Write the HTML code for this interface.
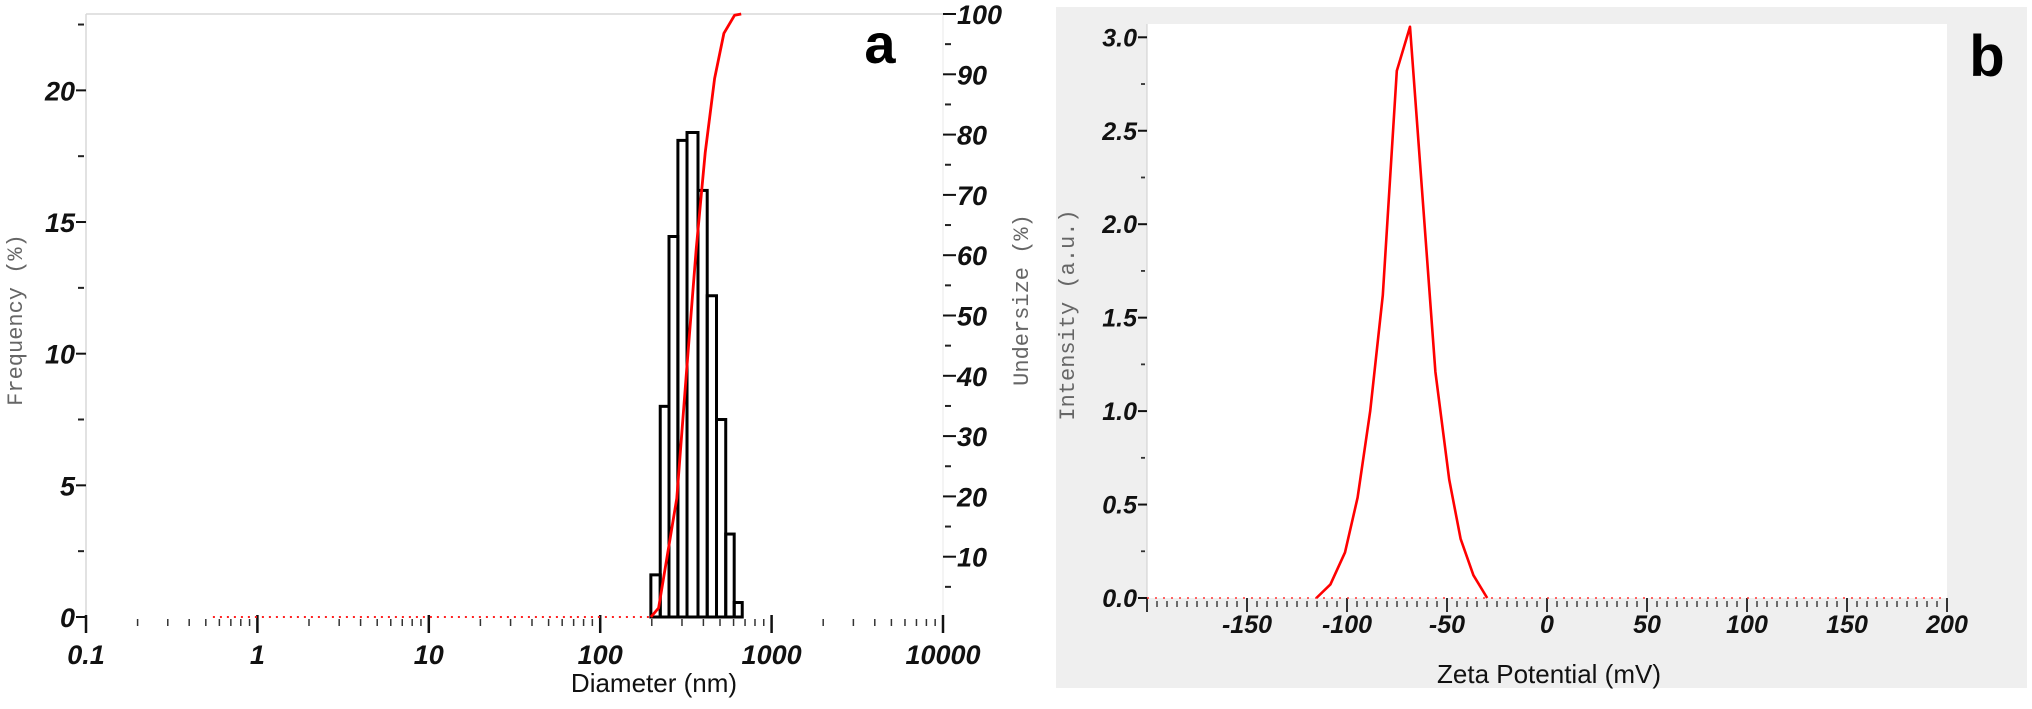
<!DOCTYPE html>
<html><head><meta charset="utf-8">
<style>
html,body{margin:0;padding:0;background:#fff;}
svg{display:block;}
.tl{font-family:"Liberation Sans Narrow","Liberation Sans",sans-serif;font-weight:bold;font-style:italic;fill:#111;}
.mono{font-family:"Liberation Mono",monospace;fill:#666;}
.lab{font-family:"Liberation Sans Narrow","Liberation Sans",sans-serif;fill:#111;}
</style></head>
<body>
<svg id="fig" width="2032" height="709" viewBox="0 0 2032 709" xmlns="http://www.w3.org/2000/svg">
  <g id="pa"></g>
  <g id="pb"></g>
</svg>
<script>
// ---- Panel a data ----
const binEdgesNm = [197.5, 224, 252, 284, 321, 372, 421, 477, 540, 605, 674];
const freqValues = [1.6, 8.0, 14.45, 18.1, 18.4, 16.2, 12.2, 7.5, 3.15, 0.55];
const cumDiam = [197.5, 219, 280, 321, 363, 410, 465, 527, 608, 665];
const cumValues = [0, 1.5, 19.7, 41.7, 61, 77, 89.3, 96.8, 99.8, 100];
const dottedStartNm = 0.55;
const xDecadeLabels = ["0.1", "1", "10", "100", "1000", "10000"];
const xDecadeValues = [0.1, 1, 10, 100, 1000, 10000];
const freqTicks = [0, 5, 10, 15, 20];
const undersizeTicks = [10, 20, 30, 40, 50, 60, 70, 80, 90, 100];
// ---- Panel b data ----
const zetaMv = [-115.3, -108.3, -101, -94.7, -88.4, -82.1, -75.1, -68.5, -55.8, -48.9, -43.2, -36.8, -29.9];
const zetaInt = [0, 0.073, 0.244, 0.537, 1.0, 1.62, 2.82, 3.056, 1.21, 0.634, 0.317, 0.122, 0];
const zetaTicks = [-150, -100, -50, 0, 50, 100, 150, 200];
const intTicks = [0, 0.5, 1.0, 1.5, 2.0, 2.5, 3.0];

const NS = "http://www.w3.org/2000/svg";
function mk(parent, tag, attrs, text) {
  const e = document.createElementNS(NS, tag);
  for (const k in attrs) e.setAttribute(k, attrs[k]);
  if (text !== undefined) e.textContent = text;
  parent.appendChild(e);
  return e;
}

// ===== Panel a =====
const pa = document.getElementById('pa');
const aL = 86, aR = 943, aT = 14, aB = 617;
const xa = d => aL + (Math.log10(d) + 1) * (aR - aL) / 5;
const yf = v => aB - v * (aB - aT) / 22.9;
const yu = v => aB - v * (aB - aT) / 100;

let e;
e = mk(pa, 'line', {x1: aL, y1: aT, x2: aR, y2: aT, stroke: '#d8d8d8', 'stroke-width': 1.5});


e = mk(pa, 'line', {x1: aL, y1: aT, x2: aL, y2: aB, stroke: '#d8d8d8', 'stroke-width': 1.5});


e = mk(pa, 'line', {x1: aR, y1: aT, x2: aR, y2: aB, stroke: '#e8e8e8', 'stroke-width': 1});



for (let i = 0; i < xDecadeValues.length; i++) {
  const x = xa(xDecadeValues[i]);
  e = mk(pa, 'line', {x1: x, y1: aB - 2, x2: x, y2: aB + 16, stroke: '#111', 'stroke-width': 2.5});
  
  
  e = mk(pa, 'text', {x: x, y: aB + 47, 'text-anchor': 'middle', 'font-size': 27, class: 'tl'}, xDecadeLabels[i]);
  
  
  if (i < xDecadeValues.length - 1) {
    for (let m = 2; m <= 9; m++) {
      const xm = xa(xDecadeValues[i] * m);
      e = mk(pa, 'line', {x1: xm, y1: aB + 2, x2: xm, y2: aB + 9, stroke: '#333', 'stroke-width': 1.5});
      
      
    }
  }
}
for (const v of freqTicks) {
  const y = yf(v);
  e = mk(pa, 'line', {x1: aL - 10, y1: y, x2: aL, y2: y, stroke: '#111', 'stroke-width': 2});
  
  
  e = mk(pa, 'text', {x: aL - 11, y: y + 10, 'text-anchor': 'end', 'font-size': 27, class: 'tl'}, String(v));
  
  
}
for (const v of [2.5, 7.5, 12.5, 17.5, 22.5]) {
  const y = yf(v);
  e = mk(pa, 'line', {x1: aL - 8, y1: y, x2: aL - 2, y2: y, stroke: '#222', 'stroke-width': 2});
  
  
}
for (const v of undersizeTicks) {
  const y = yu(v);
  e = mk(pa, 'line', {x1: aR, y1: y, x2: aR + 13, y2: y, stroke: '#111', 'stroke-width': 2});
  
  
  e = mk(pa, 'text', {x: aR + 14, y: y + 10, 'text-anchor': 'start', 'font-size': 27, class: 'tl'}, String(v));
  
  
  const ym = yu(v - 5);
  e = mk(pa, 'line', {x1: aR + 2, y1: ym, x2: aR + 8, y2: ym, stroke: '#222', 'stroke-width': 2});
  
  
}
for (let i = 0; i < freqValues.length; i++) {
  const x0 = xa(binEdgesNm[i]), x1 = xa(binEdgesNm[i + 1]);
  const y = yf(freqValues[i]);
  e = mk(pa, 'rect', {x: x0, y: y, width: x1 - x0, height: aB - y, fill: 'none', stroke: '#000', 'stroke-width': 3});
  
  
}
e = mk(pa, 'line', {x1: xa(dottedStartNm), y1: aB, x2: xa(cumDiam[0]), y2: aB, stroke: '#f22', 'stroke-width': 2, 'stroke-dasharray': '2,5'});


let pts = cumDiam.map((d, i) => xa(d).toFixed(1) + ',' + yu(cumValues[i]).toFixed(1)).join(' ');
e = mk(pa, 'polyline', {points: pts, fill: 'none', stroke: '#f00', 'stroke-width': 2.8, 'stroke-linejoin': 'round'});


e = mk(pa, 'text', {x: 0, y: 0, transform: 'translate(22,320) rotate(-90)', 'text-anchor': 'middle', 'font-size': 22, class: 'mono'}, 'Frequency (%)');


e = mk(pa, 'text', {x: 0, y: 0, transform: 'translate(1028,300) rotate(-90)', 'text-anchor': 'middle', 'font-size': 22, class: 'mono'}, 'Undersize (%)');


e = mk(pa, 'text', {x: 654, y: 692, 'text-anchor': 'middle', 'font-size': 26, class: 'lab'}, 'Diameter (nm)');


e = mk(pa, 'text', {x: 880, y: 63, 'text-anchor': 'middle', 'font-size': 56, 'font-weight': 'bold', 'font-family': 'Liberation Sans, sans-serif', fill: '#000'}, 'a');



// ===== Panel b =====
const pb = document.getElementById('pb');
e = mk(pb, 'rect', {x: 1056, y: 7, width: 971, height: 681, fill: '#efefef'});


const bL = 1147, bR = 1947, bT = 24, bB = 598;
e = mk(pb, 'rect', {x: bL, y: bT, width: bR - bL, height: bB - bT, fill: '#fff'});


const xb = v => bL + (v + 200) * (bR - bL) / 400;
const yb = v => bB - v * 186.9;
e = mk(pb, 'line', {x1: bL, y1: bT, x2: bL, y2: bB, stroke: '#ccc', 'stroke-width': 1});


for (let v = -200; v <= 200; v += 5) {
  const x = xb(v);
  const major = v % 50 === 0;
  e = mk(pb, 'line', {x1: x, y1: major ? bB : bB + 3, x2: x, y2: major ? bB + 14 : bB + 9, stroke: '#333', 'stroke-width': major ? 2 : 1.4});
  
  
}
for (const v of zetaTicks) {
  e = mk(pb, 'text', {x: xb(v), y: bB + 35, 'text-anchor': 'middle', 'font-size': 25, class: 'tl'}, String(v));
  
  
}
for (const v of intTicks) {
  const y = yb(v);
  e = mk(pb, 'line', {x1: bL - 9, y1: y, x2: bL, y2: y, stroke: '#111', 'stroke-width': 2});
  
  
  e = mk(pb, 'text', {x: bL - 10, y: y + 9, 'text-anchor': 'end', 'font-size': 25, class: 'tl'}, v.toFixed(1));
  
  
  if (v < 3) {
    const ym = yb(v + 0.25);
    e = mk(pb, 'line', {x1: bL - 6, y1: ym, x2: bL - 2, y2: ym, stroke: '#333', 'stroke-width': 1.8});
    
    
  }
}
e = mk(pb, 'line', {x1: bL, y1: bB, x2: bR, y2: bB, stroke: '#f33', 'stroke-width': 1.6, 'stroke-dasharray': '2,6'});


pts = zetaMv.map((v, i) => xb(v).toFixed(1) + ',' + yb(zetaInt[i]).toFixed(1)).join(' ');
e = mk(pb, 'polyline', {points: pts, fill: 'none', stroke: '#f00', 'stroke-width': 2.6, 'stroke-linejoin': 'round'});


e = mk(pb, 'text', {x: 0, y: 0, transform: 'translate(1074,315) rotate(-90)', 'text-anchor': 'middle', 'font-size': 22, class: 'mono'}, 'Intensity (a.u.)');


e = mk(pb, 'text', {x: 1549, y: 683, 'text-anchor': 'middle', 'font-size': 26, class: 'lab'}, 'Zeta Potential (mV)');


e = mk(pb, 'text', {x: 1987, y: 76, 'text-anchor': 'middle', 'font-size': 58, 'font-weight': 'bold', 'font-family': 'Liberation Sans, sans-serif', fill: '#000'}, 'b');


</script>
</body></html>
